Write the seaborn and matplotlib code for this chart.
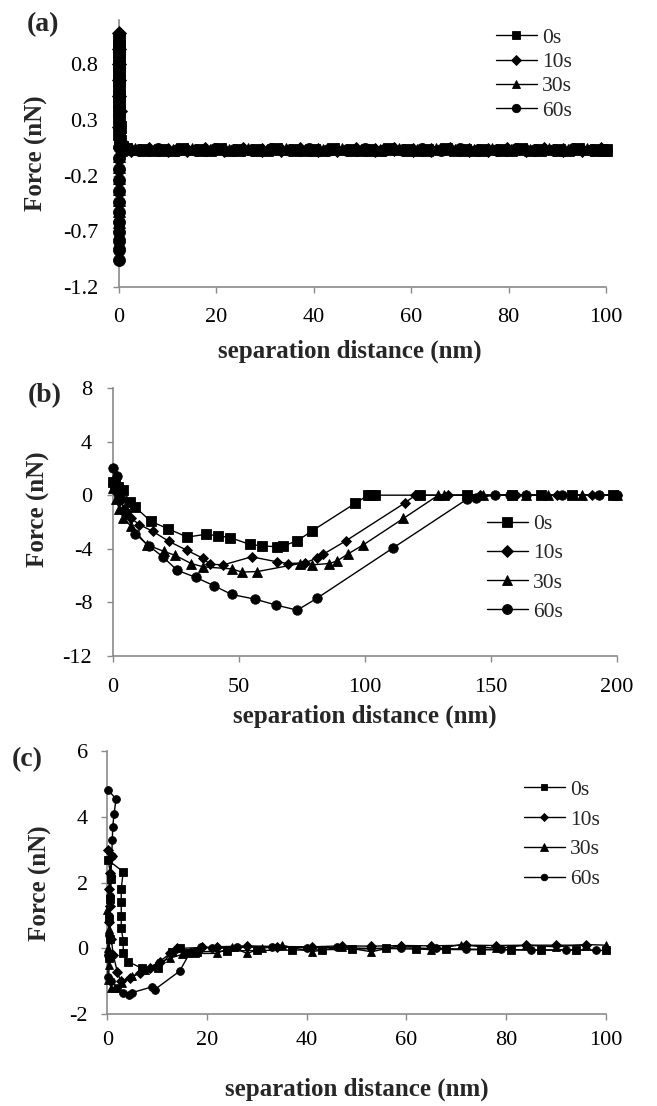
import matplotlib
matplotlib.use('Agg')
import matplotlib.pyplot as plt
import seaborn as sns

# ---------------- data ----------------
labels = ['0s', '10s', '30s', '60s']
markers = ['s', 'D', '^', 'o']

# panel (a)
a_0s_x = [0.0, 0.1, 0.0, 0.1, 0.0, 0.1, 0.0, 0.1, 0.0, 0.1, 0.0, 0.1, 0.2, 0.1, 0.3, 0.6,
          1.5, 5.2, 9.1, 13.0, 16.8, 20.7, 24.6, 28.4, 32.3, 36.2, 40.0, 43.9, 47.8, 51.6,
          55.5, 59.4, 63.2, 67.1, 71.0, 74.8, 78.7, 82.6, 86.4, 90.3, 94.2, 98.0, 100.0]
a_0s_y = [1.03, 0.97, 0.91, 0.85, 0.79, 0.72, 0.66, 0.59, 0.52, 0.45, 0.38, 0.31, 0.24, 0.17, 0.11, 0.06,
          0.04, 0.03, 0.03, 0.04, 0.03, 0.04, 0.03, 0.03, 0.04, 0.03, 0.03, 0.04, 0.03, 0.03,
          0.04, 0.03, 0.03, 0.04, 0.03, 0.03, 0.03, 0.04, 0.03, 0.03, 0.04, 0.03, 0.03]
a_10s_x = [0.0, 0.1, 0.0, 0.1, 0.0, 0.2, 0.1, 0.4, 0.9,
           2.4, 6.1, 10.0, 13.9, 17.7, 21.6, 25.5, 29.3, 33.2, 37.1, 40.9, 44.8, 48.7, 52.5,
           56.4, 60.3, 64.1, 68.0, 71.9, 75.7, 79.6, 83.5, 87.3, 91.2, 95.1, 99.0]
a_10s_y = [1.08, 0.94, 0.80, 0.66, 0.52, 0.38, 0.24, 0.10, 0.05,
           0.03, 0.04, 0.03, 0.03, 0.04, 0.03, 0.04, 0.03, 0.03, 0.04, 0.03, 0.03, 0.04, 0.03,
           0.04, 0.03, 0.03, 0.04, 0.03, 0.03, 0.04, 0.03, 0.04, 0.03, 0.03, 0.04]
a_30s_x = [0.0, 0.1, 0.0, 0.1, 0.0, 0.1, 0.0, 0.1, 0.0, 0.1, 0.5,
           3.3, 7.1, 11.0, 14.9, 18.7, 22.6, 26.5, 30.3, 34.2, 38.1, 41.9, 45.8, 49.7, 53.5,
           57.4, 61.3, 65.1, 69.0, 72.9, 76.7, 80.6, 84.5, 88.3, 92.2, 96.1, 99.5]
a_30s_y = [0.10, -0.02, -0.12, -0.22, -0.32, -0.42, -0.52, -0.62, -0.72, -0.80, 0.03,
           0.04, 0.03, 0.03, 0.04, 0.03, 0.03, 0.04, 0.03, 0.04, 0.03, 0.03, 0.04, 0.03, 0.03,
           0.04, 0.03, 0.04, 0.03, 0.03, 0.04, 0.03, 0.03, 0.04, 0.03, 0.04, 0.03]
a_60s_x = [0.1, 0.0, 0.1, 0.0, 0.1, 0.0, 0.1, 0.0, 0.1, 0.0, 0.1, 0.0,
           0.5, 4.2, 8.1, 12.0, 15.8, 19.7, 23.6, 27.4, 31.3, 35.2, 39.0, 42.9, 46.8, 50.6,
           54.5, 58.4, 62.2, 66.1, 70.0, 73.8, 77.7, 81.6, 85.4, 89.3, 93.2, 97.1, 100.0]
a_60s_y = [0.06, -0.04, -0.14, -0.24, -0.34, -0.44, -0.53, -0.62, -0.71, -0.79, -0.87, -0.96,
           0.05, 0.03, 0.04, 0.03, 0.03, 0.04, 0.03, 0.03, 0.04, 0.03, 0.04, 0.03, 0.03, 0.04,
           0.03, 0.03, 0.04, 0.03, 0.04, 0.03, 0.03, 0.04, 0.03, 0.03, 0.04, 0.03, 0.03]
a_xticks = [0, 20, 40, 60, 80, 100]
a_yticks = [-1.2, -0.7, -0.2, 0.3, 0.8]

# panel (b)
b_0s_x = [0.0, 0.8, 2.0, 4.1, 6.7, 8.7, 15.0, 22.0, 29.5, 37.0, 41.5, 46.4, 54.4, 59.0,
          65.0, 67.6, 73.1, 78.8, 96.0, 101.3, 102.5, 104.0, 121.8, 140.3, 158.2, 170.0, 182.0, 198.5]
b_0s_y = [1.0, 0.8, 0.6, 0.37, -0.5, -0.87, -1.95, -2.52, -3.13, -2.91, -3.03, -3.16, -3.68, -3.78,
          -3.85, -3.78, -3.41, -2.69, -0.62, 0.0, 0.0, 0.0, 0.0, 0.0, 0.0, 0.0, 0.0, 0.0]
b_10s_x = [0.0, 1.0, 2.5, 4.5, 7.0, 10.5, 15.8, 22.2, 29.2, 35.6, 38.5, 43.8, 55.0, 65.0,
           69.6, 76.2, 80.8, 83.5, 92.5, 115.9, 120.0, 133.0, 145.6, 160.0, 176.0, 190.0, 200.0]
b_10s_y = [0.8, 0.2, -0.4, -1.0, -1.7, -2.2, -2.7, -3.45, -4.1, -4.7, -5.15, -5.2, -4.6, -4.97,
           -5.1, -5.05, -4.7, -4.4, -3.4, -0.57, 0.0, 0.0, 0.0, 0.0, 0.0, 0.0, 0.0]
b_30s_x = [0.0, 1.0, 2.5, 4.1, 7.1, 13.4, 20.3, 24.8, 31.0, 35.9, 47.1, 51.1, 57.3, 74.2,
           78.9, 85.9, 89.0, 93.1, 99.4, 115.2, 129.1, 131.5, 147.0, 164.0, 172.5, 186.0, 200.0]
b_30s_y = [0.5, -0.3, -1.0, -1.74, -2.3, -3.7, -4.2, -4.5, -5.1, -5.35, -5.5, -5.74, -5.7, -5.1,
           -5.2, -5.1, -4.9, -4.4, -3.7, -1.74, 0.0, 0.0, 0.0, 0.0, 0.0, 0.0, 0.0]
b_60s_x = [0.0, 1.4, 3.0, 5.0, 8.7, 14.2, 19.8, 25.4, 32.8, 40.2, 47.1, 56.4, 64.7, 73.1,
           80.8, 111.2, 140.3, 144.0, 151.6, 157.5, 164.0, 178.0, 193.0, 200.0]
b_60s_y = [2.0, 1.4, -0.3, -1.3, -2.86, -3.78, -4.6, -5.6, -6.13, -6.77, -7.41, -7.76, -8.2, -8.58,
           -7.71, -3.93, -0.32, -0.2, 0.0, 0.0, 0.0, 0.0, 0.0, 0.0]
b_xticks = [0, 50, 100, 150, 200]
b_yticks = [-12, -8, -4, 0, 4, 8]

# panel (c)
c_0s_x = [0.3, 0.5, 0.3, 0.6, 0.8, 0.2, 3.2, 2.8, 2.8, 2.8, 2.8, 3.2, 3.2, 4.2, 6.9, 10.2, 13.0,
          14.5, 15.9, 18.0, 24.0, 30.0, 37.0, 43.0, 49.0, 56.0, 62.0, 68.0, 75.0, 81.0, 87.0, 94.0, 100.0]
c_0s_y = [-0.3, 0.3, 0.9, 1.5, 2.1, 2.68, 2.33, 1.82, 1.4, 1.0, 0.61, 0.23, -0.15, -0.4, -0.6, -0.6, -0.1,
          0.0, -0.15, -0.1, -0.08, -0.06, -0.05, -0.04, -0.02, 0.0, -0.02, -0.03, -0.04, -0.04, -0.05, -0.05, -0.06]
c_10s_x = [0.2, 1.0, 0.5, 0.3, 0.6, 0.4, 0.8, 1.2, 2.0, 2.7, 4.5, 6.5, 8.5, 10.5, 12.6,
           14.0, 19.0, 22.0, 28.0, 34.0, 41.0, 47.0, 53.0, 59.0, 65.0, 72.0, 78.0, 84.0, 90.0, 96.0]
c_10s_y = [2.99, 2.8, 2.3, 1.8, 1.3, 0.8, 0.3, -0.2, -0.7, -1.0, -0.9, -0.75, -0.6, -0.4, -0.15,
           0.0, 0.03, 0.05, 0.08, 0.06, 0.05, 0.08, 0.07, 0.09, 0.08, 0.1, 0.09, 0.1, 0.1, 0.1]
c_30s_x = [0.0, 0.3, 0.1, 0.4, 0.2, 0.8, 1.5, 3.0, 5.0, 7.5, 10.0, 12.5, 15.0, 17.5, 22.0,
           25.0, 28.0, 31.0, 35.0, 41.0, 47.0, 53.0, 59.0, 65.0, 71.0, 78.0, 84.0, 90.0, 96.0, 100.0]
c_30s_y = [1.16, 0.6, 0.0, -0.5, -0.95, -1.21, -1.2, -1.05, -0.85, -0.65, -0.45, -0.3, -0.18, -0.15, -0.15,
           0.05, -0.15, 0.0, 0.1, -0.1, 0.05, -0.1, 0.1, -0.05, 0.12, 0.0, 0.1, 0.05, 0.12, 0.1]
c_60s_x = [0.2, 1.75, 1.35, 1.1, 1.0, 0.9, 0.7, 0.5, 0.4, 0.3, 0.2, 0.1, 0.8, 2.0, 3.2, 4.4, 5.0,
           8.9, 9.5, 14.5, 16.7, 18.9, 21.0, 26.0, 33.0, 40.0, 46.0, 53.0, 59.0, 66.0, 72.0, 79.0,
           85.0, 92.0, 98.0]
c_60s_y = [4.81, 4.54, 4.08, 3.70, 3.29, 2.8, 2.2, 1.6, 1.0, 0.4, -0.2, -0.86, -1.0, -1.2, -1.35, -1.42, -1.34,
           -1.17, -1.25, -0.69, -0.1, 0.05, 0.0, 0.03, 0.05, 0.02, 0.03, 0.0, 0.02, 0.0, -0.02, -0.03,
           -0.05, -0.04, -0.05]
c_xticks = [0, 20, 40, 60, 80, 100]
c_yticks = [-2, 0, 2, 4, 6]

# ---------------- style ----------------
sns.set_theme(style='ticks')
plt.rcParams['font.family'] = ['Liberation Serif', 'DejaVu Serif']
plt.rcParams['axes.unicode_minus'] = False

GREY = '#8a8a8a'
fig = plt.figure(figsize=(6.57, 11.06), dpi=100)
fig.patch.set_facecolor('white')

axA = fig.add_axes([0.1811, 0.7408, 0.7412, 0.2411])
axB = fig.add_axes([0.1720, 0.4069, 0.7671, 0.2423])
axC = fig.add_axes([0.1633, 0.0829, 0.7586, 0.2381])


def draw(ax, xs, ys, label, marker, ms):
    sns.lineplot(x=xs, y=ys, ax=ax, color='black', marker=marker, markersize=ms,
                 markeredgecolor='black', markeredgewidth=0.6, linewidth=1.0,
                 sort=False, estimator=None, errorbar=None, label=label,
                 clip_on=False, zorder=3)


def style(ax, xlim, ylim, xticks, yticks, xpad, ypad):
    ax.set_xlim(*xlim)
    ax.set_ylim(*ylim)
    ax.set_xticks(xticks)
    ax.set_xticklabels([f'{v:g}' for v in xticks])
    ax.set_yticks(yticks)
    ax.set_yticklabels([f'{v:g}' for v in yticks])
    for s in ['top', 'right']:
        ax.spines[s].set_visible(False)
    for s in ['left', 'bottom']:
        ax.spines[s].set_color(GREY)
        ax.spines[s].set_linewidth(1.2)
        ax.spines[s].set_zorder(1)
    ax.tick_params(axis='both', direction='out', length=4, width=1.0, color=GREY,
                   labelsize=16, labelcolor='black')
    ax.tick_params(axis='x', pad=xpad)
    ax.tick_params(axis='y', pad=ypad)
    ax.set_facecolor('white')


# panel a
a_sets = [(a_0s_x, a_0s_y), (a_10s_x, a_10s_y), (a_30s_x, a_30s_y), (a_60s_x, a_60s_y)]
a_ms = [8.5, 7.2, 9.0, 8.6]
for (xs, ys), lab, mk, ms in zip(a_sets, labels, markers, a_ms):
    draw(axA, xs, ys, lab, mk, ms)
style(axA, (0, 100), (-1.2, 1.2), a_xticks, a_yticks, 11, 11)

# panel b
b_sets = [(b_0s_x, b_0s_y), (b_10s_x, b_10s_y), (b_30s_x, b_30s_y), (b_60s_x, b_60s_y)]
b_ms = [7.0, 5.4, 7.2, 6.8]
for (xs, ys), lab, mk, ms in zip(b_sets, labels, markers, b_ms):
    draw(axB, xs, ys, lab, mk, ms)
style(axB, (0, 200), (-12, 8), b_xticks, b_yticks, 12, 11)

# panel c
c_sets = [(c_0s_x, c_0s_y), (c_10s_x, c_10s_y), (c_30s_x, c_30s_y), (c_60s_x, c_60s_y)]
c_ms = [5.6, 5.0, 6.2, 5.6]
for (xs, ys), lab, mk, ms in zip(c_sets, labels, markers, c_ms):
    draw(axC, xs, ys, lab, mk, ms)
style(axC, (0, 100), (-2, 6), c_xticks, c_yticks, 8, 10)

# axis labels
for ax, xl, yl in [(axA, (0.474, -0.2), (-0.146, 0.5)),
                   (axB, (0.50, -0.18), (-0.125, 0.549)),
                   (axC, (0.501, -0.24), (-0.111, 0.499))]:
    ax.set_xlabel('separation distance (nm)', fontsize=18, fontweight='bold')
    ax.set_ylabel('Force (nN)', fontsize=18, fontweight='bold')
    ax.xaxis.set_label_coords(*xl)
    ax.yaxis.set_label_coords(*yl)

# legends
for ax, anchor, ls, mscale in [(axA, (0.755, 0.975), 0.2, 0.7),
                               (axB, (0.741, 0.535), 0.42, 1.05),
                               (axC, (0.7976, 0.295), 0.45, 0.85)]:
    h, l = ax.get_legend_handles_labels()
    ax.legend(h, l, loc='upper left', bbox_to_anchor=anchor, bbox_transform=fig.transFigure,
              frameon=False, borderpad=0, borderaxespad=0, handlelength=1.9,
              handletextpad=0.25, labelspacing=ls, markerscale=mscale,
              prop={'family': 'Liberation Serif', 'size': 15.5})

# panel letters
fig.text(0.065, 0.978, '(a)', fontsize=20, fontweight='bold', ha='center', va='center')
fig.text(0.068, 0.642, '(b)', fontsize=20, fontweight='bold', ha='center', va='center')
fig.text(0.042, 0.313, '(c)', fontsize=20, fontweight='bold', ha='center', va='center')

fig.savefig('out.png', dpi=100, facecolor='white')
